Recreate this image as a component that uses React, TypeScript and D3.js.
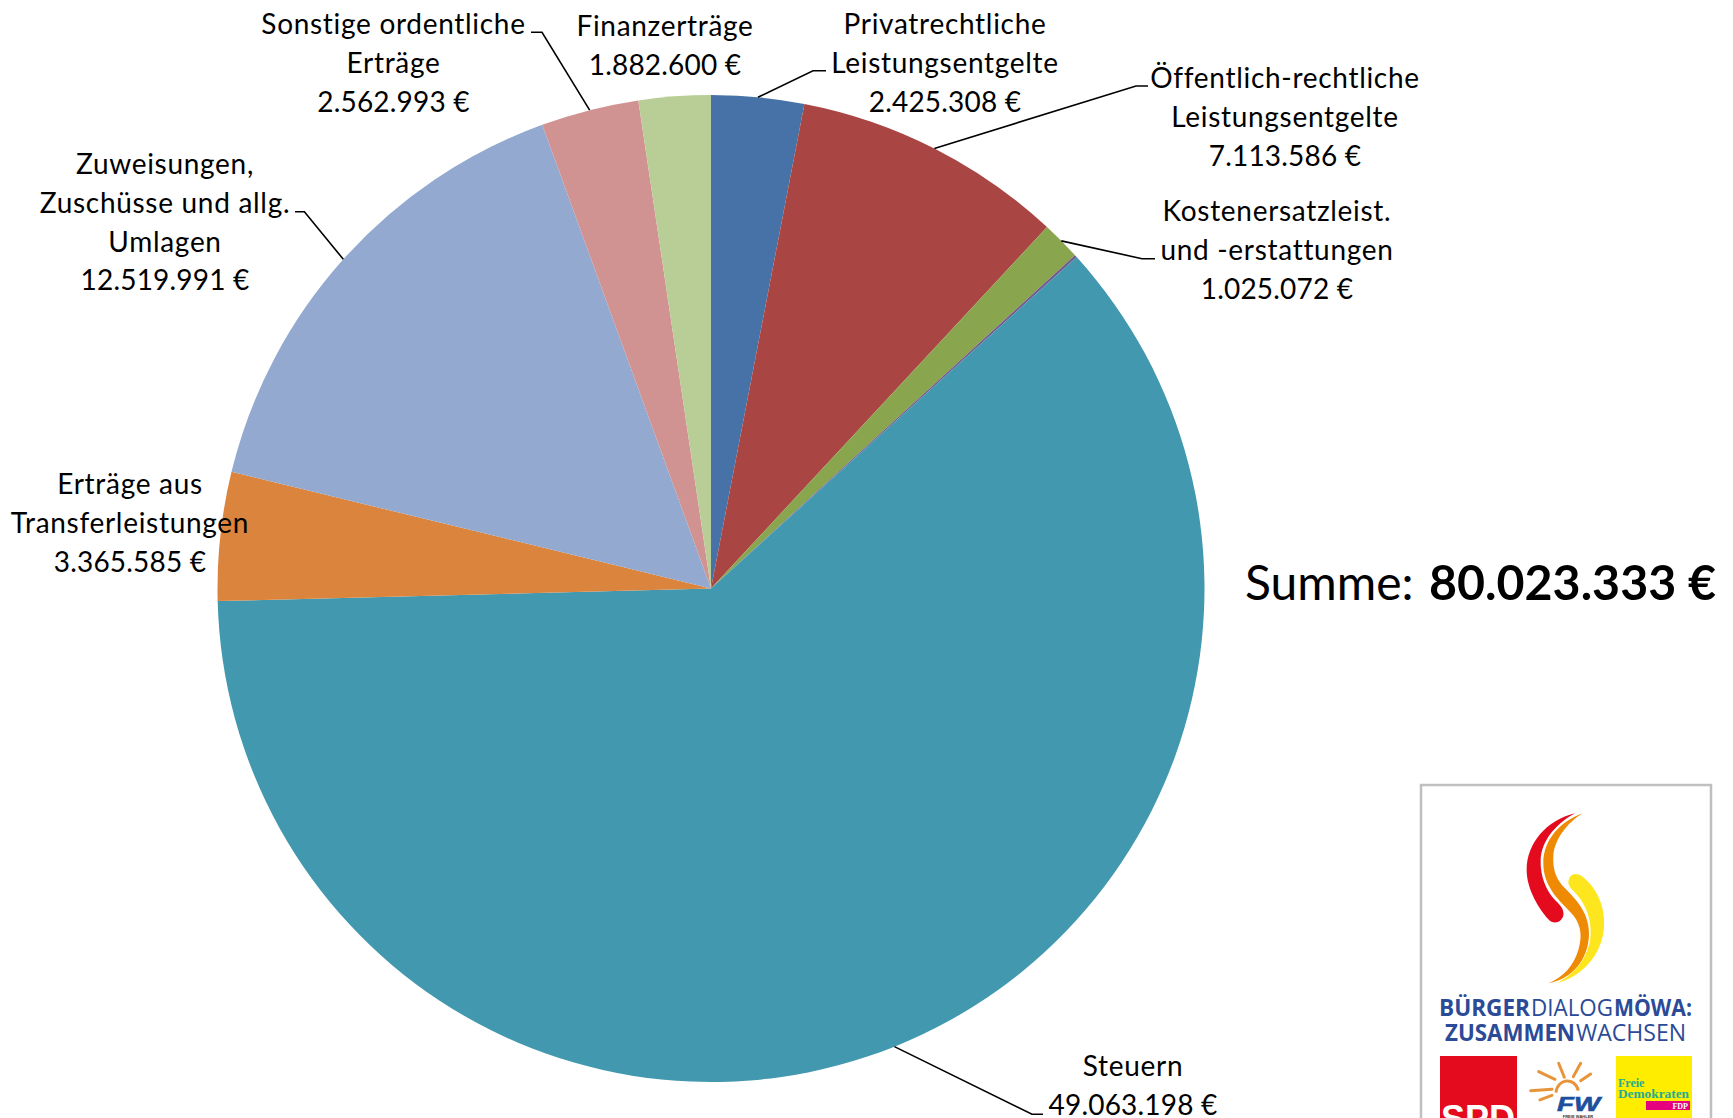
import React from "react";
import * as d3 from "d3";

const W = 1733, H = 1118;

// Slices, clockwise from twelve o'clock
const sliceNames = ["Privatrechtliche Leistungsentgelte", "Öffentlich-rechtliche Leistungsentgelte", "Kostenersatzleist. und -erstattungen", "Sonstige", "Steuern", "Erträge aus Transferleistungen", "Zuweisungen, Zuschüsse und allg. Umlagen", "Sonstige ordentliche Erträge", "Finanzerträge"];
const sliceValues = [2425308, 7113586, 1025072, 65000, 49063198, 3365585, 12519991, 2562993, 1882600];
const sliceColors = ["#4672a8", "#a94644", "#89a54e", "#71588f", "#4298af", "#db843d", "#93a9cf", "#d19392", "#b9cd96"];

const fmt = (v: number) => d3.format(",")(v).replace(/,/g, ".") + " €";

// Label layout: slice index, centre x, first baseline, line texts, bend and elbow of leader
const labelLayout = [
  { i: 0, x: 945, y: 33.7, lines: ["Privatrechtliche", "Leistungsentgelte"], bend: [813, 70.7], end: [826, 70.7] },
  { i: 1, x: 1285, y: 87.7, lines: ["Öffentlich-rechtliche", "Leistungsentgelte"], bend: [1136, 86], end: [1148, 86] },
  { i: 2, x: 1277, y: 220.7, lines: ["Kostenersatzleist.", "und -erstattungen"], bend: [1142, 258.7], end: [1155, 258.7] },
  { i: 4, x: 1133, y: 1076, lines: ["Steuern"], bend: [1032, 1114.3], end: [1043, 1114.3] },
  { i: 5, x: 130, y: 493.7, lines: ["Erträge aus", "Transferleistungen"] },
  { i: 6, x: 165, y: 173.7, lines: ["Zuweisungen,", "Zuschüsse und allg.", "Umlagen"], bend: [304.4, 211.7], end: [295, 211.7] },
  { i: 7, x: 393.5, y: 33.7, lines: ["Sonstige ordentliche", "Erträge"], bend: [542, 32.3], end: [531, 32.3] },
  { i: 8, x: 665, y: 35.7, lines: ["Finanzerträge"] },
];
const sumLabel = "Summe:";
const sumValue = "80.023.333 €";

const cx = 711, cy = 588.5, R = 493.5;
const FONT = "Lato, 'Open Sans', sans-serif";
const LINE = 38.9;

function Logo() {
  const blue = "#2b4a97";
  const rays = [
    [476, 880, 493, 922], [542, 880, 520, 920], [572, 912, 542, 932], [416, 905, 465, 928],
    [392, 962, 456, 958], [420, 990, 456, 976],
  ];
  const logoText = (t: string, x: number, y: number, w: number, weight: number) => (
    <text x={x} y={y} fontFamily="'Open Sans', sans-serif" fontSize={23.5} fontWeight={weight} fill={blue} textLength={w} lengthAdjust="spacingAndGlyphs">{t}</text>
  );
  return (
    <g>
      <rect x={1421} y={785} width={290} height={340} fill="#fff" stroke="#bfbfbf" strokeWidth={2.5} />
      <g transform="translate(1400,770) scale(0.3333)">
        <path fill="#e30b1d" d="M525,130 C440,150 380,220 380,300 C380,360 420,420 445,448 C465,470 495,450 490,425 C488,412 475,400 465,390 C440,365 420,320 422,270 C425,210 470,160 525,130 Z" />
        <path fill="#ef8a05" d="M548,130 C480,155 430,210 430,280 C430,345 470,385 510,425 C540,455 550,490 535,540 C520,590 490,620 445,640 C515,628 567,570 567,490 C567,430 530,390 495,355 C470,330 458,300 460,260 C462,210 500,160 548,130 Z" />
        <path fill="#fde61e" d="M505,340 C505,312 528,305 548,320 C592,355 616,410 612,470 C608,550 550,618 470,640 C530,610 575,550 572,480 C570,420 540,380 512,355 Z" />
        {rays.map((r, k) => (
          <line key={k} x1={r[0]} y1={r[1]} x2={r[2]} y2={r[3]} stroke="#e8943a" strokeWidth={9} strokeLinecap="round" />
        ))}
        <path d="M468,968 C472,925 525,920 535,962" fill="none" stroke="#e8943a" strokeWidth={9} />
      </g>
      {logoText("BÜRGER", 1439, 1015.5, 91, 700)}
      {logoText("DIALOG", 1531, 1015.5, 82, 400)}
      {logoText("MÖWA:", 1614, 1015.5, 78, 700)}
      {logoText("ZUSAMMEN", 1445, 1040.5, 130, 700)}
      {logoText("WACHSEN", 1576, 1040.5, 110, 400)}
      <rect x={1440} y={1056} width={77} height={70} fill="#e30b1d" />
      <text x={1478} y={1131} textAnchor="middle" fontFamily="'Liberation Sans', sans-serif" fontWeight={700} fontSize={36} fill="#fff">SPD</text>
      <text x={1557} y={1111} fontFamily="'Liberation Sans', sans-serif" fontWeight={700} fontStyle="italic" fontSize={21} stroke="#1d4f9c" strokeWidth={0.6} fill="#1d4f9c" textLength={43} lengthAdjust="spacingAndGlyphs">FW</text>
      <text x={1578} y={1117.5} textAnchor="middle" fontFamily="'Liberation Sans', sans-serif" fontWeight={700} fontSize={4} fill="#333">FREIE WÄHLER</text>
      <rect x={1616} y={1056} width={76} height={70} fill="#ffed00" />
      <text x={1618} y={1087} fontFamily="'Liberation Serif', serif" fontWeight={700} fontSize={12} fill="#22ab94">Freie</text>
      <text x={1618} y={1098} fontFamily="'Liberation Serif', serif" fontWeight={700} fontSize={12} fill="#22ab94" textLength={71} lengthAdjust="spacingAndGlyphs">Demokraten</text>
      <rect x={1646} y={1101} width={44} height={9} fill="#e5007d" />
      <text x={1688} y={1109} textAnchor="end" fontFamily="'Liberation Serif', serif" fontWeight={700} fontSize={8} fill="#fff">FDP</text>
    </g>
  );
}

export default function App() {
  const pie = d3.pie<number>().sort(null).startAngle(0).endAngle(2 * Math.PI);
  const arcs = pie(sliceValues);
  const arc = d3.arc<d3.PieArcDatum<number>>().innerRadius(0).outerRadius(R);
  const rim = d3.arc<d3.PieArcDatum<number>>().innerRadius(R).outerRadius(R);
  const line = d3.line();

  return (
    <svg width={W} height={H} viewBox={`0 0 ${W} ${H}`} style={{ position: "absolute", left: 0, top: 0, background: "#fff" }}>
      <g transform={`translate(${cx},${cy})`}>
        {arcs.map((a, k) => (
          <path key={sliceNames[k]} d={arc(a)!} fill={sliceColors[k]} />
        ))}
      </g>
      {labelLayout.map((l) => {
        const [ax, ay] = rim.centroid(arcs[l.i]);
        const texts = [...l.lines, fmt(sliceValues[l.i])];
        return (
          <g key={l.i}>
            {l.bend && (
              <path
                d={line([[ax + cx, ay + cy], l.bend as [number, number], l.end as [number, number]])!}
                fill="none"
                stroke="#000"
                strokeWidth={1.6}
              />
            )}
            {texts.map((t, j) => (
              <text
                key={j}
                x={l.x}
                y={l.y + j * LINE}
                textAnchor="middle"
                fontFamily={FONT}
                fontSize={28}
                letterSpacing={j === texts.length - 1 ? 0.2 : 0.7}
                fill="#000"
              >
                {t}
              </text>
            ))}
          </g>
        );
      })}
      <text x={1245} y={600} fontFamily={FONT} fontSize={48} fill="#000">
        {sumLabel}
      </text>
      <text x={1429} y={600} fontFamily={FONT} fontSize={48} fontWeight={700} fill="#000" textLength={287} lengthAdjust="spacingAndGlyphs">
        {sumValue}
      </text>
      <Logo />
    </svg>
  );
}
